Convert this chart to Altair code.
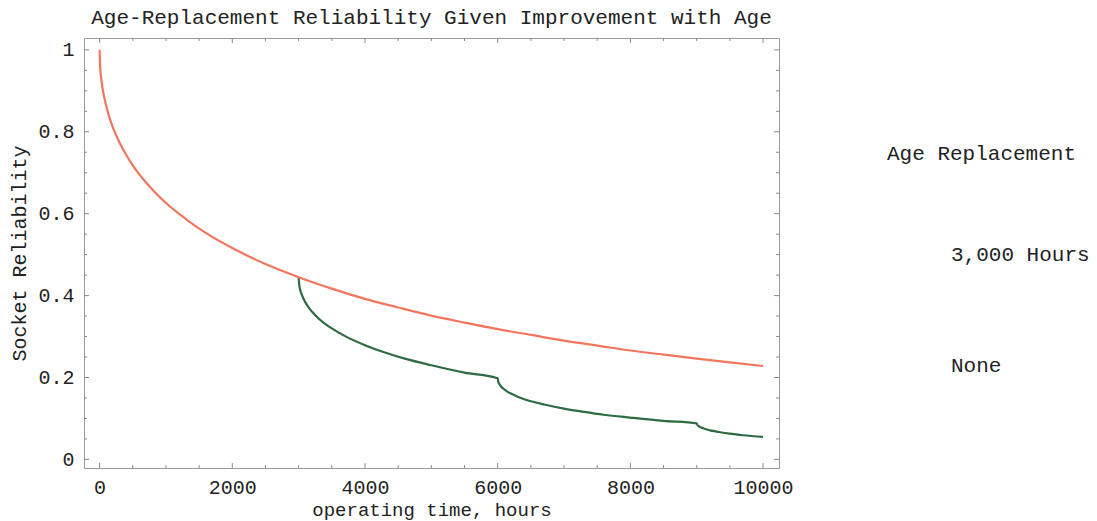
import altair as alt
import pandas as pd

# Reliability with no replacement (Weibull, shape < 1: improvement with age)
hours_none = [0, 10, 25, 50, 100, 150, 200, 300, 400, 500, 700, 1000, 1300, 1600,
              2000, 2500, 3000, 3500, 4000, 4500, 5000, 5500, 6000, 6500, 7000,
              7500, 8000, 8500, 9000, 9500, 10000]
rel_none = [1.0, 0.954, 0.929, 0.901, 0.863, 0.834, 0.811, 0.774, 0.744, 0.718,
            0.676, 0.626, 0.587, 0.553, 0.516, 0.477, 0.445, 0.417, 0.392, 0.371,
            0.351, 0.334, 0.318, 0.304, 0.290, 0.278, 0.266, 0.256, 0.246, 0.237,
            0.228]

# Reliability with age replacement every 3,000 hours
hours_ar = [3000, 3010, 3025, 3050, 3100, 3150, 3200, 3300, 3400, 3500, 3700, 4000,
            4300, 4600, 5000, 5500, 6000,
            6010, 6025, 6050, 6100, 6150, 6200, 6300, 6400, 6500, 6700, 7000,
            7300, 7600, 8000, 8500, 9000,
            9010, 9025, 9050, 9100, 9150, 9200, 9300, 9400, 9500, 9700, 10000]
rel_ar = [0.445, 0.425, 0.413, 0.401, 0.384, 0.371, 0.361, 0.344, 0.331, 0.320,
          0.301, 0.279, 0.261, 0.246, 0.230, 0.212, 0.198,
          0.189, 0.184, 0.178, 0.171, 0.165, 0.161, 0.153, 0.147, 0.142, 0.134,
          0.124, 0.116, 0.109, 0.102, 0.094, 0.088,
          0.084, 0.082, 0.079, 0.076, 0.073, 0.071, 0.068, 0.065, 0.063, 0.059,
          0.055]

series_names = ["3,000 Hours", "None"]
series_colors = ["#2f6b42", "#f2765e"]

x_major = [0, 2000, 4000, 6000, 8000, 10000]
x_minor = [v for v in range(0, 10001, 500) if v not in x_major]
y_major = [0, 0.2, 0.4, 0.6, 0.8, 1.0]
y_minor = [round(i * 0.05, 2) for i in range(21) if i % 4 != 0]

W, H = 695, 430
FONT = "Liberation Mono"

df = pd.concat([
    pd.DataFrame({"t": hours_ar, "r": rel_ar, "series": series_names[0]}),
    pd.DataFrame({"t": hours_none, "r": rel_none, "series": series_names[1]}),
])

xs = alt.Scale(domain=[-235, 10240], nice=False, zero=False)
ys = alt.Scale(domain=[-0.021, 1.029], nice=False, zero=False)

lines = alt.Chart(df).mark_line(strokeWidth=2.2, interpolate="monotone").encode(
    x=alt.X("t:Q", scale=xs,
            axis=alt.Axis(values=x_major, format="d", title="operating time, hours",
                          tickSize=0, domain=False, grid=False, labelPadding=9,
                          titlePadding=3, titleFontSize=19)),
    y=alt.Y("r:Q", scale=ys,
            axis=alt.Axis(values=y_major, title="Socket Reliability",
                          tickSize=0, domain=False, grid=False, labelPadding=10,
                          titlePadding=8,
                          labelExpr="datum.value == 0 ? '0' : datum.value == 1 ? '1' : format(datum.value, '.1f')")),
    color=alt.Color("series:N",
                    scale=alt.Scale(domain=series_names, range=series_colors),
                    legend=alt.Legend(title="Age Replacement", orient="none",
                                      legendX=803, legendY=105,
                                      symbolOpacity=0, symbolStrokeWidth=0,
                                      symbolSize=100, labelOffset=43,
                                      rowPadding=89, titlePadding=80,
                                      titleLimit=400, labelLimit=400)),
    order="t:Q",
)

tick_color = "#8a8a8a"


def xticks(vals, length):
    d = pd.DataFrame({"v": vals})
    bottom = alt.Chart(d).mark_rule(color=tick_color, strokeWidth=1).encode(
        x=alt.X("v:Q", scale=xs), y=alt.value(H), y2=alt.value(H - length))
    top = alt.Chart(d).mark_rule(color=tick_color, strokeWidth=1).encode(
        x=alt.X("v:Q", scale=xs), y=alt.value(0), y2=alt.value(length))
    return [bottom, top]


def yticks(vals, length):
    d = pd.DataFrame({"v": vals})
    left = alt.Chart(d).mark_rule(color=tick_color, strokeWidth=1).encode(
        y=alt.Y("v:Q", scale=ys), x=alt.value(0), x2=alt.value(length))
    right = alt.Chart(d).mark_rule(color=tick_color, strokeWidth=1).encode(
        y=alt.Y("v:Q", scale=ys), x=alt.value(W), x2=alt.value(W - length))
    return [left, right]


layers = (xticks(x_major, 5) + xticks(x_minor, 3) +
          yticks(y_major, 5) + yticks(y_minor, 3) + [lines])

chart = alt.layer(*layers).properties(
    width=W, height=H,
    background="white",
    title=alt.Title("Age-Replacement Reliability Given Improvement with Age",
                    font=FONT, fontSize=21, fontWeight="normal", color="#222",
                    anchor="middle", offset=10),
    autosize=alt.AutoSizeParams(type="none"),
    padding={"left": 84, "top": 38, "right": 318, "bottom": 53},
).configure_view(
    stroke="#9a9a9a", strokeWidth=1
).configure_axis(
    labelFont=FONT, labelFontSize=20, labelColor="#222",
    titleFont=FONT, titleFontSize=20, titleFontWeight="normal", titleColor="#222",
).configure_legend(
    titleFont=FONT, titleFontSize=21, titleFontWeight="normal", titleColor="#222",
    labelFont=FONT, labelFontSize=21, labelColor="#222",
)

chart.save("out.html", embed_options={"renderer": "svg", "actions": False})
